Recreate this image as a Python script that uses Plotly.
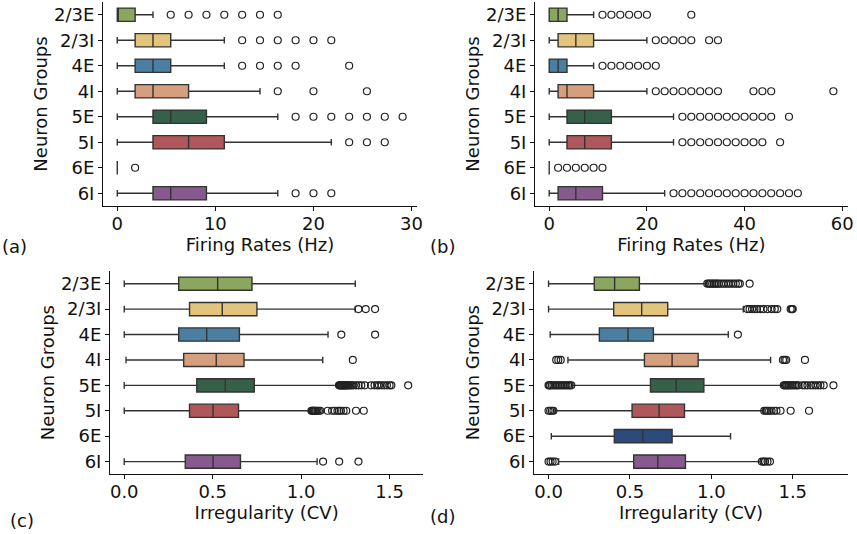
import plotly.graph_objects as go

W, H = 857, 534

groups = ["2/3E", "2/3I", "4E", "4I", "5E", "5I", "6E", "6I"]
colors = ["#8ba65e", "#e3c47c", "#4a7fa1", "#d59f7d", "#366049", "#b0575b", "#2d4a7c", "#875a8d"]

# ---------- panel (a): firing rates ----------
a_q1 = [0, 1.82, 1.82, 1.82, 3.64, 3.64, 0, 3.64]
a_med = [0, 3.64, 3.64, 3.64, 5.45, 7.27, 0, 5.45]
a_q3 = [1.82, 5.45, 5.45, 7.27, 9.09, 10.91, 0, 9.09]
a_lo = [0, 0, 0, 0, 0, 0, 0, 0]
a_hi = [3.64, 10.91, 10.91, 14.55, 16.36, 21.82, 0, 16.36]
a_out = [
    [5.45, 7.27, 9.09, 10.91, 12.73, 14.55, 16.36],
    [12.73, 14.55, 16.36, 18.18, 20.0, 21.82],
    [12.73, 14.55, 16.36, 18.18, 23.64],
    [16.36, 20.0, 25.45],
    [18.18, 20.0, 21.82, 23.64, 25.45, 27.27, 29.09],
    [23.64, 25.45, 27.27],
    [1.82],
    [18.18, 20.0, 21.82],
]

# ---------- panel (b): firing rates ----------
b_q1 = [0, 1.82, 0, 1.82, 3.64, 3.64, 0, 1.82]
b_med = [1.82, 5.45, 1.82, 3.64, 7.27, 7.27, 0, 5.45]
b_q3 = [3.64, 9.09, 3.64, 9.09, 12.73, 12.73, 0, 10.91]
b_lo = [0, 0, 0, 0, 0, 0, 0, 0]
b_hi = [9.09, 20.0, 9.09, 20.0, 25.45, 25.45, 0, 23.64]
b_out = [
    [10.91, 12.73, 14.55, 16.36, 18.18, 20.0, 29.09],
    [21.82, 23.64, 25.45, 27.27, 29.09, 32.73, 34.55],
    [10.91, 12.73, 14.55, 16.36, 18.18, 20.0, 21.82],
    [21.82, 23.64, 25.45, 27.27, 29.09, 30.91, 32.73, 34.55, 41.82, 43.64, 45.45, 58.18],
    [27.27, 29.09, 30.91, 32.73, 34.55, 36.36, 38.18, 40.0, 41.82, 43.64, 45.45, 49.09],
    [27.27, 29.09, 30.91, 32.73, 34.55, 36.36, 38.18, 40.0, 41.82, 43.64, 47.27],
    [1.82, 3.64, 5.45, 7.27, 9.09, 10.91],
    [25.45, 27.27, 29.09, 30.91, 32.73, 34.55, 36.36, 38.18, 40.0, 41.82, 43.64, 45.45,
     47.27, 49.09, 50.91],
]

# ---------- panel (c): irregularity ----------
c_q1 = [0.308, 0.369, 0.308, 0.336, 0.41, 0.369, None, 0.345]
c_med = [0.528, 0.554, 0.466, 0.52, 0.571, 0.502, None, 0.502]
c_q3 = [0.722, 0.75, 0.651, 0.677, 0.735, 0.646, None, 0.657]
c_lo = [0, 0, 0, 0.01, 0, 0, None, 0]
c_hi = [1.306, 1.306, 1.152, 1.122, 1.21, 1.055, None, 1.09]
c_out = [
    [],
    [1.324, 1.365, 1.418],
    [1.227, 1.418],
    [1.292],
    [1.214, 1.218, 1.222, 1.226, 1.23, 1.234, 1.238, 1.242, 1.246, 1.25, 1.255, 1.26,
     1.265, 1.27, 1.278, 1.285, 1.295, 1.31, 1.325, 1.34, 1.36, 1.395, 1.415, 1.43,
     1.44, 1.455, 1.47, 1.485, 1.5, 1.51, 1.605],
    [1.058, 1.062, 1.066, 1.07, 1.075, 1.08, 1.085, 1.092, 1.1, 1.108, 1.15, 1.175,
     1.19, 1.205, 1.215, 1.225, 1.24, 1.255, 1.31, 1.354],
    [],
    [1.124, 1.215, 1.324],
]

# ---------- panel (d): irregularity ----------
d_q1 = [0.281, 0.4, 0.312, 0.589, 0.626, 0.513, 0.404, 0.523]
d_med = [0.406, 0.572, 0.488, 0.759, 0.784, 0.679, 0.579, 0.671]
d_q3 = [0.558, 0.732, 0.644, 0.919, 0.954, 0.835, 0.759, 0.841]
d_lo = [0, 0, 0.01, 0.119, 0.145, 0.04, 0.017, 0.062]
d_hi = [0.969, 1.196, 1.104, 1.364, 1.44, 1.32, 1.118, 1.307]
d_out = [
    [0.975, 0.985, 0.995, 1.005, 1.015, 1.025, 1.035, 1.045, 1.06, 1.075, 1.09, 1.105,
     1.12, 1.135, 1.15, 1.165, 1.175, 1.235],
    [1.221, 1.235, 1.25, 1.265, 1.28, 1.3, 1.32, 1.345, 1.37, 1.39, 1.405, 1.487,
     1.495, 1.5],
    [1.163],
    [0.047, 0.06, 0.075, 1.44, 1.45, 1.46, 1.575],
    [0.0, 0.005, 0.01, 0.02, 0.03, 0.04, 0.05, 0.06, 0.07, 0.08, 0.09, 0.1, 0.11,
     0.12, 0.13, 0.14, 1.445, 1.452, 1.46, 1.468, 1.476, 1.485, 1.495, 1.505, 1.515,
     1.525, 1.535, 1.56, 1.575, 1.59, 1.61, 1.625, 1.64, 1.655, 1.67, 1.69, 1.75],
    [0.0, 0.01, 0.02, 0.03, 1.325, 1.335, 1.345, 1.355, 1.37, 1.385, 1.4, 1.425,
     1.487, 1.6],
    [],
    [0.0, 0.012, 0.025, 0.04, 1.31, 1.32, 1.33, 1.345, 1.36],
]

panels = [
    ("x", "y", a_q1, a_med, a_q3, a_lo, a_hi, a_out),
    ("x2", "y2", b_q1, b_med, b_q3, b_lo, b_hi, b_out),
    ("x3", "y3", c_q1, c_med, c_q3, c_lo, c_hi, c_out),
    ("x4", "y4", d_q1, d_med, d_q3, d_lo, d_hi, d_out),
]

fig = go.Figure()
for xa, ya, q1, med, q3, lo, hi, outs in panels:
    for i, g in enumerate(groups):
        if q1[i] is not None:
            fig.add_trace(go.Box(
                y=[g], q1=[q1[i]], median=[med[i]], q3=[q3[i]],
                lowerfence=[lo[i]], upperfence=[hi[i]],
                orientation="h", fillcolor=colors[i],
                line=dict(color="#333333", width=1.4),
                width=0.52, whiskerwidth=0.5, boxpoints=False,
                xaxis=xa, yaxis=ya, showlegend=False, hoverinfo="skip",
            ))
        if outs[i]:
            fig.add_trace(go.Scatter(
                x=outs[i], y=[g] * len(outs[i]), mode="markers",
                marker=dict(symbol="circle-open", size=7, color="#222222",
                            line=dict(width=1.2, color="#222222")),
                xaxis=xa, yaxis=ya, showlegend=False, hoverinfo="skip",
            ))

font = dict(family="DejaVu Sans", size=18, color="#111111")

def xax(dom, rng, tv, tt, title):
    return dict(domain=dom, range=rng, tickvals=tv, ticktext=tt,
                showline=True, linecolor="#111111", linewidth=1,
                ticks="outside", ticklen=4, tickwidth=1, tickcolor="#111111",
                ticklabelstandoff=-3,
                showgrid=False, zeroline=False, tickfont=font,
                title=dict(text=title, font=font, standoff=0), automargin=False)

def yax(dom, anchor):
    return dict(domain=dom, anchor=anchor, type="category",
                categoryorder="array", categoryarray=groups, range=[7.5, -0.5],
                showline=True, linecolor="#111111", linewidth=1,
                ticks="outside", ticklen=4, tickwidth=1, tickcolor="#111111",
                showgrid=False, zeroline=False, tickfont=font,
                title=dict(text="Neuron Groups", font=font, standoff=1), automargin=False)

top = [1 - 206 / H, 1 - 2 / H]
bot = [1 - 474.3 / H, 1 - 271 / H]

fig.update_layout(
    width=W, height=H, margin=dict(l=0, r=0, t=0, b=0),
    paper_bgcolor="white", plot_bgcolor="white",
    boxmode="overlay", font=font,
    xaxis=dict(anchor="y", **xax([103 / W, 417 / W], [-1.455, 30.555], [0, 10, 20, 30],
                                 ["0", "10", "20", "30"], "Firing Rates (Hz)")),
    yaxis=yax(top, "x"),
    xaxis2=dict(anchor="y2", **xax([535 / W, 847.7 / W], [-2.91, 61.11], [0, 20, 40, 60],
                                   ["0", "20", "40", "60"], "Firing Rates (Hz)")),
    yaxis2=yax(top, "x2"),
    xaxis3=dict(anchor="y3", **xax([110 / W, 423.3 / W], [-0.0805, 1.6905], [0, 0.5, 1.0, 1.5],
                                   ["0.0", "0.5", "1.0", "1.5"], "Irregularity (CV)")),
    yaxis3=yax(bot, "x3"),
    xaxis4=dict(anchor="y4", **xax([534.3 / W, 847.7 / W], [-0.0875, 1.8375], [0, 0.5, 1.0, 1.5],
                                   ["0.0", "0.5", "1.0", "1.5"], "Irregularity (CV)")),
    yaxis4=yax(bot, "x4"),
)

for lab, px, py in [("(a)", 14, 246), ("(b)", 442, 246), ("(c)", 22, 520), ("(d)", 442, 516)]:
    fig.add_annotation(text=lab, x=px / W, y=1 - py / H, xref="paper", yref="paper",
                       showarrow=False, font=font, xanchor="center", yanchor="middle")

fig.write_html("out.html", config={"displayModeBar": False},
               post_script="document.body.style.margin='0';document.body.style.overflow='hidden';")
